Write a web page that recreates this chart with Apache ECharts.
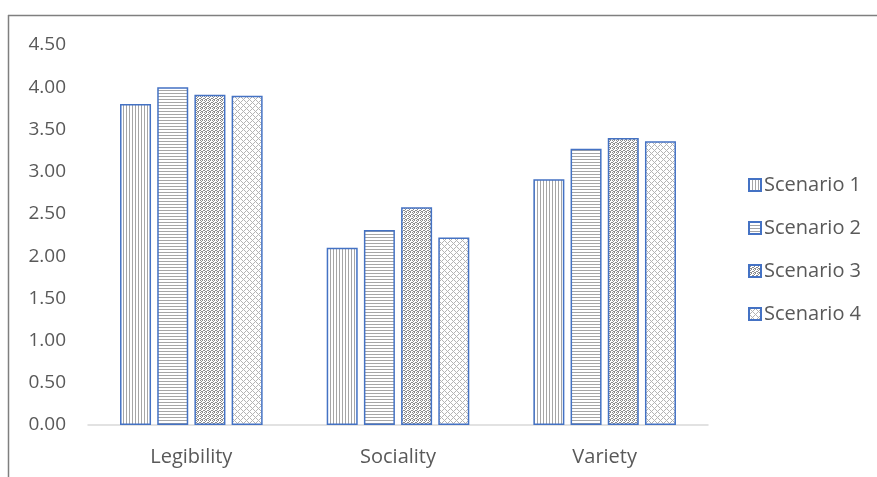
<!DOCTYPE html>
<html>
<head>
<meta charset="utf-8">
<script src="https://cdn.jsdelivr.net/npm/echarts@6/dist/echarts.min.js"></script>
<style>
  html, body { margin: 0; padding: 0; background: #ffffff; }
  #chart { width: 877px; height: 477px; }
</style>
</head>
<body>
<div id="chart"></div>
<script>
// Categories and per-scenario scores
const categories = ['Legibility', 'Sociality', 'Variety'];
const scenarioNames = ['Scenario 1', 'Scenario 2', 'Scenario 3', 'Scenario 4'];
const scenario1 = [3.80, 2.10, 2.91];
const scenario2 = [4.00, 2.31, 3.27];
const scenario3 = [3.91, 2.58, 3.40];
const scenario4 = [3.90, 2.22, 3.36];
const yTicks = [0, 0.5, 1, 1.5, 2, 2.5, 3, 3.5, 4, 4.5];

const TEXT = '#595959';
const FONT = 'Open Sans';
const EDGE = '#4472C4';

// Small tiled canvases used as hatch fills
function tile(w, h, draw) {
  const c = document.createElement('canvas');
  c.width = w; c.height = h;
  const ctx = c.getContext('2d');
  ctx.fillStyle = '#ffffff';
  ctx.fillRect(0, 0, w, h);
  draw(ctx);
  return c;
}
const vertical = tile(3, 3, ctx => {
  ctx.fillStyle = '#a6a6a6';
  ctx.fillRect(0, 0, 1, 3);
});
const horizontal = tile(3, 3, ctx => {
  ctx.fillStyle = '#a6a6a6';
  ctx.fillRect(0, 0, 3, 1);
});
const dotted = tile(4, 4, ctx => {
  ctx.fillStyle = '#8c8c8c';
  [[0,0],[2,0],[1,1],[0,2],[3,2],[2,3],[1,3]].forEach(p => ctx.fillRect(p[0], p[1], 1, 1));
});
const lattice = tile(6, 6, ctx => {
  ctx.fillStyle = '#b4b4b4';
  for (let x = 0; x < 6; x++) {
    for (let y = 0; y < 6; y++) {
      if ((x + y) % 6 === 0 || (x - y + 6) % 6 === 0) ctx.fillRect(x, y, 1, 1);
    }
  }
});
const fills = [vertical, horizontal, dotted, lattice];
const values = [scenario1, scenario2, scenario3, scenario4];

const chart = echarts.init(document.getElementById('chart'));
chart.setOption({
  backgroundColor: '#ffffff',
  animation: false,
  textStyle: { fontFamily: FONT },
  grid: { left: 88, right: 169, top: 45, bottom: 52, containLabel: false },
  legend: {
    orient: 'vertical',
    left: 743,
    top: 170,
    itemWidth: 12,
    itemHeight: 12,
    itemGap: 23,
    icon: 'rect',
    textStyle: { color: TEXT, fontSize: 20, lineHeight: 20, fontFamily: FONT, padding: [0, 0, 0, -2] },
    data: scenarioNames
  },
  xAxis: {
    type: 'category',
    data: categories,
    axisLine: { lineStyle: { color: '#d9d9d9', width: 1.5 } },
    axisTick: { show: false },
    axisLabel: { color: TEXT, fontSize: 20, fontFamily: FONT, margin: 22 }
  },
  yAxis: {
    type: 'value',
    min: 0,
    max: yTicks[yTicks.length - 1],
    interval: 0.5,
    axisLine: { show: false },
    axisTick: { show: false },
    splitLine: { show: false },
    axisLabel: {
      color: TEXT, fontSize: 19, fontFamily: FONT, margin: 22,
      formatter: v => v.toFixed(2)
    }
  },
  graphic: [
    { type: 'line', shape: { x1: 8, y1: 15.5, x2: 877, y2: 15.5 }, style: { stroke: '#7f7f7f', lineWidth: 1.5 } },
    { type: 'line', shape: { x1: 8.5, y1: 15, x2: 8.5, y2: 477 }, style: { stroke: '#7f7f7f', lineWidth: 1.5 } }
  ],
  series: scenarioNames.map((name, i) => ({
    name,
    type: 'bar',
    data: values[i],
    barGap: '20%',
    barCategoryGap: '31%',
    itemStyle: {
      color: { image: fills[i], repeat: 'repeat' },
      borderColor: EDGE,
      borderWidth: 1.5
    }
  }))
});
</script>
</body>
</html>
